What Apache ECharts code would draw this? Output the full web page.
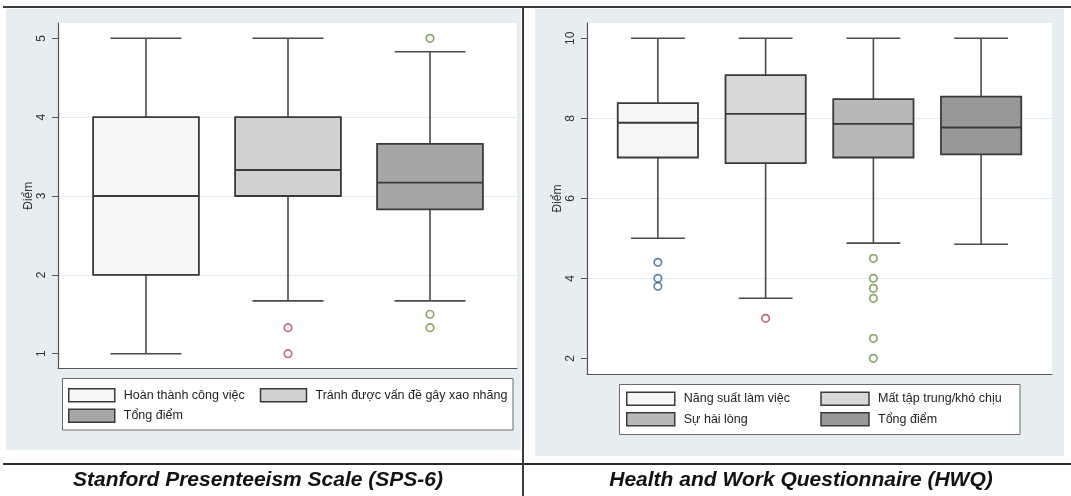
<!DOCTYPE html>
<html>
<head>
<meta charset="utf-8">
<script src="https://cdn.jsdelivr.net/npm/echarts@6/dist/echarts.min.js"></script>
<style>
  html, body { margin: 0; padding: 0; background: #ffffff; }
  #chart { width: 1071px; height: 496px; }
</style>
</head>
<body>
<div id="chart"></div>
<script>
// Stanford Presenteeism Scale (SPS-6): whisker/box summaries per subscale
// each row: [lower whisker, Q1, median, Q3, upper whisker]
const spsCategories = ['Hoàn thành công việc', 'Tránh được vấn đề gây xao nhãng', 'Tổng điểm'];
const spsBoxes = [
  [1, 2, 3, 4, 5],
  [1.67, 3, 3.33, 4, 5],
  [1.67, 2.83, 3.17, 3.66, 4.83]
];
const spsOutliers = [[], [1.33, 1], [5, 1.5, 1.33]];
const spsTicks = [1, 2, 3, 4, 5];

// Health and Work Questionnaire (HWQ)
const hwqCategories = ['Năng suất làm việc', 'Mất tập trung/khó chịu', 'Sự hài lòng', 'Tổng điểm'];
const hwqBoxes = [
  [5, 7.02, 7.89, 8.38, 10],
  [3.5, 6.88, 8.11, 9.08, 10],
  [4.88, 7.02, 7.86, 8.48, 10],
  [4.85, 7.1, 7.77, 8.54, 10]
];
const hwqOutliers = [[4.4, 4, 3.8], [3], [4.5, 4, 3.75, 3.5, 2.5, 2], []];
const hwqTicks = [2, 4, 6, 8, 10];

const axisTitle = 'Điểm';
const panelTitles = ['Stanford Presenteeism Scale (SPS-6)', 'Health and Work Questionnaire (HWQ)'];

// styling
const FONT = '"Liberation Sans", Arial, Helvetica, sans-serif';
const spsFills = ['#f6f6f6', '#d1d1d1', '#a6a6a6'];
const hwqFills = ['#f6f6f6', '#d8d8d8', '#b8b8b8', '#989898'];
const markerColors = ['#3b6696', '#b04b57', '#6b9142', '#c9802e'];
const outline = '#3a3a3a';
const panelBg = '#e6eef1';
const gridLineColor = '#e2ecf0';

function boxRenderer(fill) {
  return function (params, api) {
    const x = api.value(0);
    const lo = api.coord([x, api.value(1)]);
    const q1 = api.coord([x, api.value(2)]);
    const md = api.coord([x, api.value(3)]);
    const q3 = api.coord([x, api.value(4)]);
    const hi = api.coord([x, api.value(5)]);
    const band = api.size([1, 0])[0];
    const bw = band * 0.745;
    const cw = band * 0.5;
    const cx = md[0];
    const whisker = { stroke: '#4a4a4a', lineWidth: 1.6 };
    return {
      type: 'group',
      children: [
        { type: 'line', shape: { x1: cx, y1: hi[1], x2: cx, y2: q3[1] }, style: whisker },
        { type: 'line', shape: { x1: cx, y1: q1[1], x2: cx, y2: lo[1] }, style: whisker },
        { type: 'line', shape: { x1: cx - cw / 2, y1: hi[1], x2: cx + cw / 2, y2: hi[1] }, style: whisker },
        { type: 'line', shape: { x1: cx - cw / 2, y1: lo[1], x2: cx + cw / 2, y2: lo[1] }, style: whisker },
        { type: 'rect', shape: { x: cx - bw / 2, y: q3[1], width: bw, height: q1[1] - q3[1] },
          style: { fill: fill, stroke: outline, lineWidth: 1.8 } },
        { type: 'line', shape: { x1: cx - bw / 2, y1: md[1], x2: cx + bw / 2, y2: md[1] },
          style: { stroke: outline, lineWidth: 1.9 } }
      ]
    };
  };
}

function panelSeries(cats, boxes, outliers, fills, axisIndex) {
  const list = [];
  cats.forEach(function (name, i) {
    list.push({
      type: 'custom', name: name,
      xAxisIndex: axisIndex, yAxisIndex: axisIndex,
      renderItem: boxRenderer(fills[i]),
      itemStyle: { color: fills[i], borderColor: outline },
      data: [[i].concat(boxes[i])],
      silent: true
    });
    if (outliers[i].length) {
      list.push({
        type: 'scatter', name: name,
        xAxisIndex: axisIndex, yAxisIndex: axisIndex,
        symbol: 'circle', symbolSize: 7.5,
        itemStyle: { color: 'rgba(255,255,255,0)', borderColor: markerColors[i], borderWidth: 1.7 },
        data: outliers[i].map(function (v) { return [i, v]; }),
        silent: true
      });
    }
  });
  return list;
}

function frameYAxis(gridIndex, min, max, ticks) {
  return {
    gridIndex: gridIndex, type: 'value', min: min, max: max,
    name: axisTitle, nameLocation: 'middle', nameGap: 17, nameRotate: 90,
    nameTextStyle: { fontSize: 12, color: '#333', fontFamily: FONT },
    axisLine: { show: true, lineStyle: { color: '#555', width: 1.2 } },
    axisTick: { show: true, length: 6, customValues: ticks, lineStyle: { color: '#555', width: 1 } },
    axisLabel: {
      rotate: 90, margin: 10, fontSize: 12, color: '#333', fontFamily: FONT,
      customValues: ticks,
      formatter: function (v) { return ticks.indexOf(v) >= 0 ? String(v) : ''; }
    },
    splitLine: { show: true, showMinLine: false, showMaxLine: false,
      lineStyle: { color: gridLineColor, width: 1 } }
  };
}

function frameXAxis(gridIndex) {
  return {
    gridIndex: gridIndex, type: 'value', min: 0, max: 1,
    axisLine: { show: true, onZero: false, lineStyle: { color: '#555', width: 1.2 } },
    axisTick: { show: false }, axisLabel: { show: false }, splitLine: { show: false }
  };
}

function legendFor(cats, fills, left, top, swatchW, textW, boxW) {
  return {
    orient: 'horizontal', left: left, top: top, width: boxW, padding: 0,
    itemWidth: swatchW, itemHeight: 13, itemGap: 6, icon: 'rect', selectedMode: false,
    textStyle: { fontSize: 12.5, color: '#222', fontFamily: FONT, width: textW,
      lineHeight: 14, padding: [0, 0, 0, 4] },
    data: cats.map(function (n, i) {
      return { name: n, itemStyle: { color: fills[i], borderColor: outline, borderWidth: 1.5 } };
    })
  };
}

const SPS_MIN = 0.812, SPS_MAX = 5.194;
const HWQ_MIN = 1.608, HWQ_MAX = 10.383;

const option = {
  animation: false,
  textStyle: { fontFamily: FONT },
  grid: [
    { left: 58, top: 23, width: 459, height: 345.5, show: true, backgroundColor: '#ffffff', borderWidth: 0 },
    { left: 75, top: 23, width: 426, height: 345.5 },
    { left: 587, top: 23, width: 465, height: 351, show: true, backgroundColor: '#ffffff', borderWidth: 0 },
    { left: 604, top: 23, width: 431, height: 351 }
  ],
  xAxis: [
    frameXAxis(0),
    { gridIndex: 1, type: 'category', data: spsCategories, show: false, boundaryGap: true },
    frameXAxis(2),
    { gridIndex: 3, type: 'category', data: hwqCategories, show: false, boundaryGap: true }
  ],
  yAxis: [
    frameYAxis(0, SPS_MIN, SPS_MAX, spsTicks),
    { gridIndex: 1, type: 'value', min: SPS_MIN, max: SPS_MAX, show: false },
    frameYAxis(2, HWQ_MIN, HWQ_MAX, hwqTicks),
    { gridIndex: 3, type: 'value', min: HWQ_MIN, max: HWQ_MAX, show: false }
  ],
  legend: [
    legendFor(spsCategories, spsFills, 68, 388, 46, 130, 470),
    legendFor(hwqCategories, hwqFills, 626, 391.5, 48, 130.5, 400)
  ],
  graphic: [
    // panel backgrounds
    { type: 'rect', z: -10, shape: { x: 6, y: 9, width: 515, height: 441 }, style: { fill: panelBg }, silent: true },
    { type: 'rect', z: -10, shape: { x: 535, y: 9, width: 529, height: 447 }, style: { fill: panelBg }, silent: true },
    // legend frames
    { type: 'rect', z: 1, shape: { x: 62.5, y: 378.5, width: 450.5, height: 51.5 },
      style: { fill: '#ffffff', stroke: '#6a6a6a', lineWidth: 1 }, silent: true },
    { type: 'rect', z: 1, shape: { x: 619.5, y: 384.5, width: 400.5, height: 50 },
      style: { fill: '#ffffff', stroke: '#6a6a6a', lineWidth: 1 }, silent: true },
    // table rules
    { type: 'line', z: 20, shape: { x1: 3, y1: 7, x2: 1071, y2: 7 }, style: { stroke: '#3c3c3c', lineWidth: 2 }, silent: true },
    { type: 'line', z: 20, shape: { x1: 3, y1: 464, x2: 1071, y2: 464 }, style: { stroke: '#2a2a2a', lineWidth: 2 }, silent: true },
    { type: 'line', z: 20, shape: { x1: 523, y1: 6, x2: 523, y2: 496 }, style: { stroke: '#3c3c3c', lineWidth: 2 }, silent: true },
    // panel captions
    { type: 'text', z: 20, x: 258, y: 480,
      style: { text: panelTitles[0], align: 'center', verticalAlign: 'middle', fill: '#111',
        fontSize: 21, fontWeight: 'bold', fontStyle: 'italic', fontFamily: FONT } },
    { type: 'text', z: 20, x: 801, y: 480,
      style: { text: panelTitles[1], align: 'center', verticalAlign: 'middle', fill: '#111',
        fontSize: 21, fontWeight: 'bold', fontStyle: 'italic', fontFamily: FONT } }
  ],
  series: [].concat(
    panelSeries(spsCategories, spsBoxes, spsOutliers, spsFills, 1),
    panelSeries(hwqCategories, hwqBoxes, hwqOutliers, hwqFills, 3)
  )
};

const chart = echarts.init(document.getElementById('chart'), null, { renderer: 'canvas' });
chart.setOption(option);
</script>
</body>
</html>
